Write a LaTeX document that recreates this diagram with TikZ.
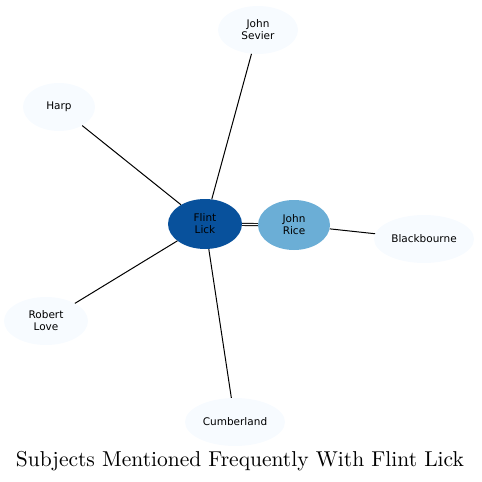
\documentclass[tikz,border=0pt]{standalone}
\usepackage{fontspec}
\usepackage{graphicx}
\newfontfamily\lblfont{DejaVu Sans}
\usetikzlibrary{shapes.geometric}
\definecolor{dark}{HTML}{08519C}
\definecolor{mid}{HTML}{6BAED6}
\definecolor{pale}{HTML}{F7FBFF}
\tikzset{
  ent/.style={ellipse, inner sep=0pt, align=center, font=\lblfont\fontsize{10.5}{12}\selectfont, text=black},
  hub/.style={ent, fill=dark, minimum width=74pt, minimum height=50pt},
  near/.style={ent, fill=mid, minimum width=72pt, minimum height=50pt},
  leaf/.style={ent, fill=pale, minimum height=48pt},
  link/.style={draw=black, line width=1pt},
}
\begin{document}
\begin{tikzpicture}[x=1pt,y=-1pt]
\useasboundingbox (0,0) rectangle (482,482);
\node[hub] (flint) at (205,224) {Flint\\Lick};
\node[near] (rice) at (294,225) {John\\Rice};
\node[leaf, minimum width=80pt] (sevier) at (258,30) {John\\Sevier};
\node[leaf, minimum width=72pt] (harp) at (59,107) {Harp};
\node[leaf, minimum width=84pt] (love) at (46,321) {Robert\\Love};
\node[leaf, minimum width=100pt] (cumb) at (235,422) {Cumberland};
\node[leaf, minimum width=100pt] (black) at (424,239) {Blackbourne};
\draw[link] (flint) -- (sevier);
\draw[link] (flint) -- (harp);
\draw[link] (flint) -- (love);
\draw[link] (flint) -- (cumb);
\draw[line width=0.9pt, double=white, double distance=1.3pt] (flint) -- (rice);
\draw[link] (rice) -- (black);
\node[inner sep=0pt] (title) at (240,461) {\resizebox{448pt}{!}{\fontsize{10}{12}\selectfont Subjects Mentioned Frequently With Flint Lick}};
\end{tikzpicture}
\end{document}
